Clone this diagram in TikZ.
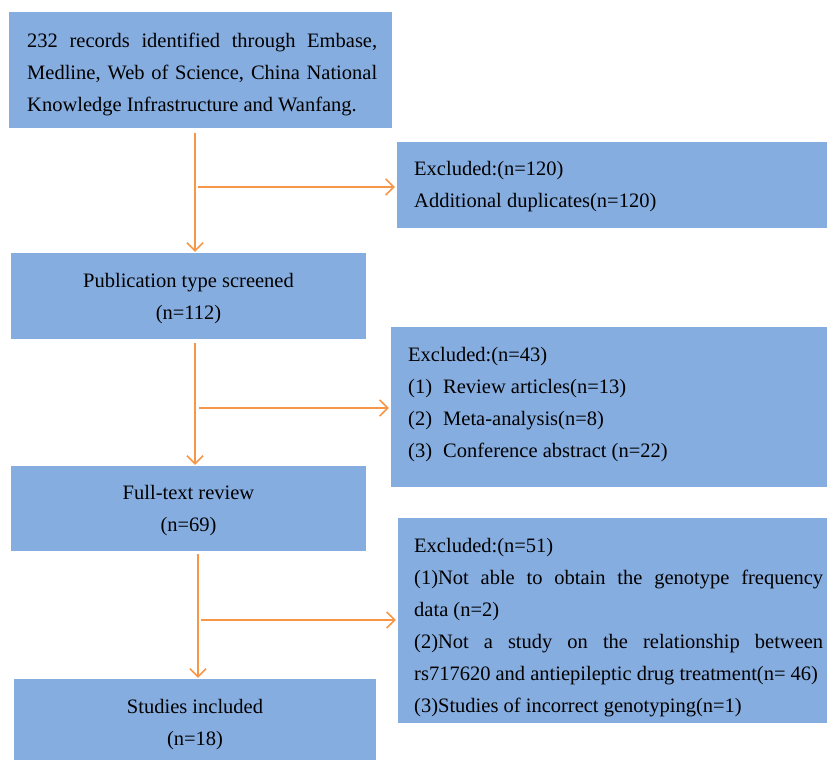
\documentclass[tikz,border=0pt]{standalone}
\usepackage{fontspec}
\setmainfont{Liberation Serif}
\usetikzlibrary{arrows.meta}
\definecolor{boxblue}{RGB}{134,173,224}
\definecolor{flowor}{RGB}{247,150,70}
\begin{document}
\begin{tikzpicture}[x=1pt,y=-1pt,
  fbox/.style={draw=none,fill=boxblue,rectangle,inner sep=0pt},
  txt/.style={inner sep=0pt,font=\fontsize{20.5}{32}\selectfont},
  flow/.style={draw=flowor,line width=1.6pt,-{Straight Barb[length=8pt,width=16pt,line width=1.6pt]}}]
\useasboundingbox (0,0) rectangle (827,760);
% boxes
\node[fbox,minimum width=383pt,minimum height=116pt] (box1) at (200.5,70) {};
\node[fbox,minimum width=430pt,minimum height=86pt] (exc1) at (612,185) {};
\node[fbox,minimum width=355pt,minimum height=86pt] (box2) at (188.5,296) {};
\node[fbox,minimum width=436pt,minimum height=160pt] (exc2) at (609,407) {};
\node[fbox,minimum width=355pt,minimum height=85pt] (box3) at (188.5,508.5) {};
\node[fbox,minimum width=429pt,minimum height=205pt] (exc3) at (612.5,620.5) {};
\node[fbox,minimum width=362pt,minimum height=81pt] (box4) at (195,719.5) {};
% texts
\node[txt,anchor=west,text width=350pt,align=justify] (t1) at (27,74)
 {232 records identified through Embase,\linebreak Medline, Web of Science, China National\linebreak Knowledge Infrastructure and Wanfang.};
\node[txt,anchor=west,align=left] (te1) at (414,187)
 {Excluded:(n=120)\\Additional duplicates(n=120)};
\node[txt,align=center] (t2) at (188.5,299)
 {Publication type screened\\(n=112)};
\node[txt,anchor=west,align=left] (te2) at (408,405)
 {Excluded:(n=43)\\(1)\hspace{6pt} Review articles(n=13)\\(2)\hspace{6pt} Meta-analysis(n=8)\\(3)\hspace{6pt} Conference abstract (n=22)};
\node[txt,align=center] (t3) at (188.5,510.5)
 {Full-text review\\(n=69)};
\node[txt,anchor=west,text width=409pt,align=justify] (te3) at (414,628)
 {Excluded:(n=51)\\
 (1)Not able to obtain the genotype frequency\linebreak data (n=2)\\
 (2)Not a study on the relationship between\linebreak rs717620 and antiepileptic drug treatment(n=~46)\\
 (3)Studies of incorrect genotyping(n=1)};
\node[txt,align=center] (t4) at (195,725)
 {Studies included\\(n=18)};
% connectors
\coordinate (v1) at (195,0);
\coordinate (v2) at (195,0);
\coordinate (v3) at (198,0);
\coordinate (b1) at (198,187);
\coordinate (b2) at (199,408);
\coordinate (b3) at (201,620);
\draw[flow,shorten <=5pt,shorten >=1pt] (box1.south -| v1) -- (box2.north -| v1);
\draw[flow,shorten <=4pt,shorten >=1pt] (box2.south -| v2) -- (box3.north -| v2);
\draw[flow,shorten <=3pt,shorten >=1pt] (box3.south -| v3) -- (box4.north -| v3);
\draw[flow,shorten >=2pt] (b1) -- (b1 -| exc1.west);
\draw[flow,shorten >=2pt] (b2) -- (b2 -| exc2.west);
\draw[flow,shorten >=2pt] (b3) -- (b3 -| exc3.west);
\end{tikzpicture}
\end{document}
